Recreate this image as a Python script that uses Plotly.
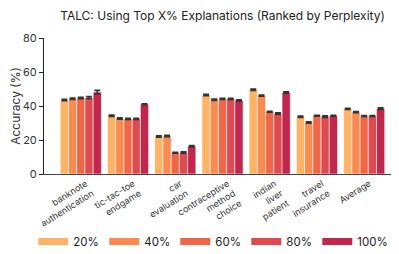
import plotly.graph_objects as go

categories = ["banknote<br>authentication", "tic-tac-toe<br>endgame", "car<br>evaluation",
              "contraceptive<br>method<br>choice", "indian<br>liver<br>patient", "travel<br>insurance", "Average"]
series_names = ["20%", "40%", "60%", "80%", "100%"]
values = {
    "20%":  [43.5, 34.3, 22.0, 46.5, 49.6, 33.7, 38.3],
    "40%":  [44.3, 32.6, 22.4, 43.7, 46.1, 30.3, 36.4],
    "60%":  [44.7, 32.4, 12.5, 44.2, 36.6, 34.3, 34.1],
    "80%":  [45.0, 32.4, 12.6, 44.2, 35.6, 33.7, 34.1],
    "100%": [48.2, 41.0, 16.3, 43.3, 47.9, 34.3, 38.5],
}
errors = {
    "20%":  [0.4, 0.4, 0.4, 0.4, 0.4, 0.4, 0.4],
    "40%":  [0.4, 0.4, 0.4, 0.4, 0.4, 0.4, 0.4],
    "60%":  [0.4, 0.3, 0.3, 0.3, 0.3, 0.3, 0.3],
    "80%":  [0.6, 0.3, 0.4, 0.3, 0.4, 0.5, 0.3],
    "100%": [1.0, 0.3, 0.4, 0.3, 0.4, 0.3, 0.5],
}
colors = ["#FDB366", "#F98B51", "#EE6747", "#DD4A50", "#C1264C"]
yticks = [0, 20, 40, 60, 80]

fig = go.Figure()
for name, c in zip(series_names, colors):
    fig.add_trace(go.Bar(
        x=categories, y=values[name], name=name, showlegend=False,
        marker=dict(color=c, line=dict(color="rgba(255,255,255,0.55)", width=1)),
        error_y=dict(type="data", array=errors[name], color="#333333", thickness=1.6, width=3),
    ))
for name, c in zip(series_names, colors):
    fig.add_trace(go.Scatter(
        x=[None], y=[None], mode="lines", name=name,
        line=dict(color=c, width=7),
    ))

fig.update_layout(
    width=399, height=254,
    margin=dict(l=36, r=6, t=30, b=85),
    paper_bgcolor="white", plot_bgcolor="white",
    font=dict(family="Inter, Liberation Sans, sans-serif", size=11, color="#222"),
    title=dict(text="TALC: Using Top X% Explanations (Ranked by Perplexity)",
               x=0.5, xref="paper", xanchor="center", y=0.985, yanchor="top",
               font=dict(size=12, color="#222")),
    barmode="group", bargap=0.13, bargroupgap=0.0,
    legend=dict(orientation="h", x=-0.03, xanchor="left", y=-0.496, yanchor="middle",
                entrywidth=26, entrywidthmode="pixels", font=dict(size=11.5),
                itemwidth=30, bgcolor="rgba(0,0,0,0)"),
)
fig.update_xaxes(
    type="category", range=[-0.78, 6.78], showline=True, linecolor="#444", linewidth=1,
    ticks="", tickangle=-32, tickfont=dict(size=9, color="#333"), showgrid=False,
    automargin=False, ticklabelshift=5,
)
fig.update_yaxes(
    range=[0, 80], tickvals=yticks, showline=True, linecolor="#222", linewidth=1,
    ticks="outside", ticklen=4, tickcolor="#222", showgrid=False, zeroline=False,
    title=dict(text="Accuracy (%)", font=dict(size=12, color="#333"), standoff=4),
    tickfont=dict(size=11, color="#333"), automargin=False,
)
fig.write_html("out.html")
